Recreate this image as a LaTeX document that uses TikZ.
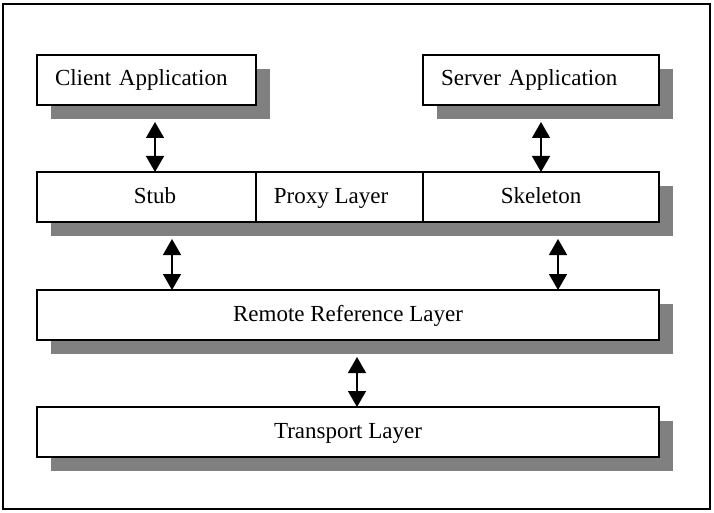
\documentclass[tikz,border=0pt]{standalone}
\usepackage{fontspec}
\setmainfont{Liberation Serif}
\usetikzlibrary{shadows,arrows.meta,calc}
\begin{document}
\begin{tikzpicture}[x=1pt,y=-1pt,
  box/.style={draw=black,line width=1.5pt,fill=white,rectangle,inner sep=0pt,outer sep=0pt,
    minimum height=50pt,anchor=north west,font=\fontsize{23}{27}\selectfont,
    text height=16pt,text depth=4pt,
    drop shadow={shadow xshift=14pt,shadow yshift=-14pt,fill=black!50,opacity=1,draw=none}},
  lbox/.style={box,text width=183pt,inner xsep=18pt,align=left},
  arr/.style={line width=1.5pt,{Triangle[width=18pt,length=16pt]}-{Triangle[width=18pt,length=16pt]}}
]
\fill[white] (0,0) rectangle (714,513);
\useasboundingbox (0,0) rectangle (714,513);
\draw[line width=1.5pt] (3,4) rectangle (710,509);
\node[lbox] (ca) at (37,55) {Client Application};
\node[lbox,text width=200pt] (sa) at (423,55) {Server Application};
\node[box,minimum width=219pt] (stub) at (37,172) {\hspace*{17pt}Stub};
\node[box,minimum width=168pt] (proxy) at (256,172) {Proxy Layer\hspace*{18pt}};
\node[box,minimum width=236pt] (skel) at (423,172) {Skeleton};
\node[box,minimum width=622pt] (rrl) at (37,290) {Remote Reference Layer};
\node[box,minimum width=622pt] (tl) at (37,407) {Transport Layer};
\draw[arr] ($(ca.south west)+(118,17)$) -- ($(stub.north west)+(118,0)$);
\draw[arr] ($(sa.south west)+(118,17)$) -- ($(skel.north west)+(118,0)$);
\draw[arr] ($(stub.south west)+(135,17)$) -- ($(rrl.north west)+(135,0)$);
\draw[arr] ($(skel.south west)+(135,17)$) -- ($(rrl.north west)+(521,0)$);
\draw[arr] ($(rrl.south west)+(320,17)$) -- ($(tl.north west)+(320,0)$);
\end{tikzpicture}
\end{document}
